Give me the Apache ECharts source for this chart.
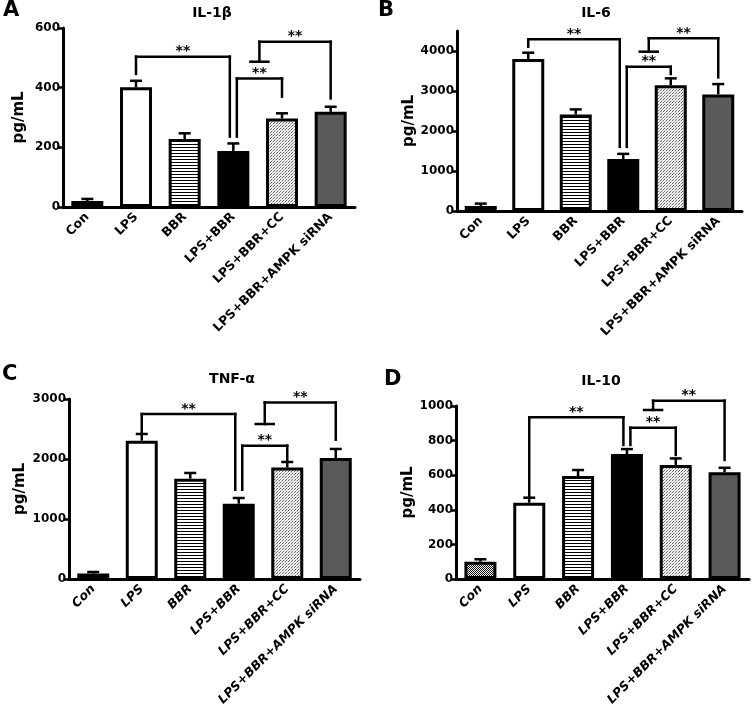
<!DOCTYPE html>
<html><head><meta charset="utf-8">
<script src="https://cdn.jsdelivr.net/npm/echarts@6/dist/echarts.min.js"></script>
<style>html,body{margin:0;padding:0;background:#fff}#c{width:753px;height:709px}</style>
</head><body><div id="c"></div>
<script>
// ---------- data ----------
const categories = ['Con', 'LPS', 'BBR', 'LPS+BBR', 'LPS+BBR+CC', 'LPS+BBR+AMPK siRNA'];

const il1bMean = [20, 401, 228, 188, 297, 319];
const il1bSem  = [7, 22, 19, 25, 17, 17];
const il6Mean  = [125, 3800, 2414, 1302, 3141, 2915];
const il6Sem   = [60, 158, 126, 126, 175, 258];
const tnfMean  = [90, 2305, 1672, 1255, 1860, 2017];
const tnfSem   = [27, 112, 95, 95, 90, 150];
const il10Mean = [100, 441, 595, 722, 659, 617];
const il10Sem  = [14, 29, 35, 29, 38, 26];

// significance brackets: [leftCat, rightCat, topValue, leftLegEnd, rightLegEnd]
const il1bPairs = [[1, 3, 504, 446, 236], [3, 4, 431, 236, 370]];
const il6Pairs  = [[1, 3, 4293, 4108, 1603], [3, 4, 3607, 1603, 3424]];
const tnfPairs  = [[1, 3, 2750, 2440, 1488], [3, 4, 2222, 1488, 1988]];
const il10Pairs = [[1, 3, 935, 476, 775], [3, 4, 875, 775, 717]];
// linked brackets: [fromPair, rightCat, stubValue, topValue, rightLegEnd]
const il1bLinks = [[1, 5, 487, 554, 364]];
const il6Links  = [[1, 5, 3983, 4318, 3341]];
const tnfLinks  = [[1, 5, 2583, 2943, 2322]];
const il10Links = [[1, 5, 977, 1031, 688]];

// axis ticks
const il1bTicks = [0, 200, 400, 600];
const il6Ticks  = [0, 1000, 2000, 3000, 4000];
const tnfTicks  = [0, 1000, 2000, 3000];
const il10Ticks = [0, 200, 400, 600, 800, 1000];

const titles = ['IL-1β', 'IL-6', 'TNF-α', 'IL-10'];
const letters = ['A', 'B', 'C', 'D'];

// ---------- styles ----------
const FONT = '"DejaVu Sans", "Liberation Sans", Arial, sans-serif';
function pat(w, h, bg, draw) {
  const c = document.createElement('canvas');
  c.width = w; c.height = h;
  const g = c.getContext('2d');
  g.fillStyle = bg; g.fillRect(0, 0, w, h);
  draw(g);
  return { image: c, repeat: 'repeat' };
}
const fills = [
  pat(2, 2, '#fff', g => { g.fillStyle = '#111'; g.fillRect(0, 0, 1, 1); g.fillRect(1, 1, 1, 1); }),
  '#ffffff',
  pat(1, 3, '#fff', g => { g.fillStyle = '#000'; g.fillRect(0, 0, 1, 1); }),
  '#000000',
  pat(3, 3, '#f2f2f2', g => { g.fillStyle = '#666'; g.fillRect(0, 0, 1, 1); g.fillRect(1, 2, 1, 1); g.fillStyle = '#bbb'; g.fillRect(2, 1, 1, 1); }),
  '#5a5a5a'
];

const panels = [
  { mean: il1bMean, sem: il1bSem, pairs: il1bPairs, links: il1bLinks, ticks: il1bTicks, max: 600, interval: 200,
    grid: { left: 63, top: 28, width: 292, height: 179 }, nameGap: 36, italic: false,
    title: [212, 13], letter: [3, 11] },
  { mean: il6Mean, sem: il6Sem, pairs: il6Pairs, links: il6Links, ticks: il6Ticks, max: 4500, interval: 1000,
    grid: { left: 457, top: 31, width: 285, height: 180 }, nameGap: 40, italic: false,
    title: [596, 13], letter: [378, 11] },
  { mean: tnfMean, sem: tnfSem, pairs: tnfPairs, links: tnfLinks, ticks: tnfTicks, max: 3000, interval: 1000,
    grid: { left: 69, top: 399, width: 291, height: 180 }, nameGap: 41, italic: true,
    title: [232, 379], letter: [2, 375] },
  { mean: il10Mean, sem: il10Sem, pairs: il10Pairs, links: il10Links, ticks: il10Ticks, max: 1000, interval: 200,
    grid: { left: 456, top: 406, width: 293, height: 173 }, nameGap: 39, italic: true,
    title: [601, 381], letter: [384, 380] }
];

const grids = [], xAxes = [], yAxes = [], series = [], graphics = [];

panels.forEach((p, gi) => {
  grids.push(Object.assign({ containLabel: false, outerBoundsMode: 'none' }, p.grid));
  xAxes.push({
    type: 'category', gridIndex: gi, data: categories,
    axisLine: { lineStyle: { color: '#000', width: 3 } },
    axisTick: { alignWithLabel: true, length: 5, lineStyle: { color: '#000', width: 2.5 } },
    axisLabel: { rotate: 45, interval: 0, color: '#000', fontFamily: FONT, fontWeight: 'bold',
      fontSize: 12.5, fontStyle: p.italic ? 'italic' : 'normal', margin: 8, hideOverlap: false },
    splitLine: { show: false }
  });
  yAxes.push({
    type: 'value', gridIndex: gi, min: 0, max: p.max, interval: p.interval,
    axisLine: { show: true, lineStyle: { color: '#000', width: 3 } },
    axisTick: { show: true, length: 5, lineStyle: { color: '#000', width: 2.5 }, customValues: p.ticks },
    axisLabel: { color: '#000', fontFamily: FONT, fontWeight: 'bold', fontSize: 12, margin: 3,
      customValues: p.ticks, formatter: v => String(v) },
    splitLine: { show: false },
    name: 'pg/mL', nameLocation: 'middle', nameGap: p.nameGap,
    nameTextStyle: { color: '#000', fontFamily: FONT, fontWeight: 'bold', fontSize: 15 }
  });
  series.push({
    type: 'bar', xAxisIndex: gi, yAxisIndex: gi, barWidth: 32,
    itemStyle: { borderColor: '#000', borderWidth: 3 },
    data: p.mean.map((v, j) => ({ value: v, itemStyle: { color: fills[j] } })),
    z: 2
  });
  series.push({
    type: 'custom', xAxisIndex: gi, yAxisIndex: gi, clip: false, z: 4,
    data: p.mean.map((v, j) => [j, v, p.sem[j]]),
    encode: { x: 0, y: 1 },
    renderItem: (params, api) => {
      const x = api.value(0), m = api.value(1), s = api.value(2);
      const p0 = api.coord([x, m]), p1 = api.coord([x, m + s]);
      const st = { stroke: '#000', lineWidth: 2.5 };
      return { type: 'group', children: [
        { type: 'line', shape: { x1: p0[0], y1: p0[1], x2: p1[0], y2: p1[1] }, style: st },
        { type: 'line', shape: { x1: p1[0] - 6, y1: p1[1], x2: p1[0] + 6, y2: p1[1] }, style: st }
      ] };
    }
  });
  const pairs = p.pairs, links = p.links;
  const shared = c => pairs.filter(q => q[0] === c || q[1] === c).length > 1;
  const legX = (api, c, side) => api.coord([c, 0])[0] + (shared(c) ? (side === 'l' ? 3.5 : -3.5) : 0);
  const yv = (api, v) => api.coord([0, v])[1];
  series.push({
    type: 'custom', xAxisIndex: gi, yAxisIndex: gi, clip: false, z: 5,
    data: pairs.map((q, i) => [i, q[2]]).concat(links.map((l, i) => [pairs.length + i, l[3]])),
    encode: { x: 0, y: 1 },
    renderItem: (params, api) => {
      const k = params.dataIndex, ch = [];
      const L = (x1, y1, x2, y2) => ch.push({ type: 'line', shape: { x1, y1, x2, y2 },
        style: { stroke: '#000', lineWidth: 2.5, lineCap: 'square' } });
      const T = (x, y) => ch.push({ type: 'text', x, y, style: { text: '**', font: 'bold 14px ' + FONT, fill: '#000',
        align: 'center', verticalAlign: 'middle', textAlign: 'center', textVerticalAlign: 'middle' } });
      if (k < pairs.length) {
        const [l, r, top, lv, rv] = pairs[k];
        const xl = legX(api, l, 'l'), xr = legX(api, r, 'r'), yt = yv(api, top);
        L(xl, yv(api, lv), xl, yt); L(xl, yt, xr, yt); L(xr, yt, xr, yv(api, rv));
        T((xl + xr) / 2, yt - 5);
      } else {
        const [src, r, sv, top, rv] = links[k - pairs.length];
        const q = pairs[src];
        const xc = (legX(api, q[0], 'l') + legX(api, q[1], 'r')) / 2;
        const xr = api.coord([r, 0])[0], ys = yv(api, sv), yt = yv(api, top);
        L(xc - 9, ys, xc + 9, ys); L(xc, ys, xc, yt); L(xc, yt, xr, yt); L(xr, yt, xr, yv(api, rv));
        T((xc + xr) / 2, yt - 5);
      }
      return { type: 'group', children: ch };
    }
  });
  graphics.push({ type: 'text', x: p.title[0], y: p.title[1],
    style: { text: titles[gi], font: 'bold 14px ' + FONT, fill: '#000', align: 'center', verticalAlign: 'middle',
      textAlign: 'center', textVerticalAlign: 'middle' } });
  graphics.push({ type: 'text', x: p.letter[0], y: p.letter[1],
    style: { text: letters[gi], font: 'bold 21px ' + FONT, fill: '#000', align: 'left', verticalAlign: 'middle',
      textAlign: 'left', textVerticalAlign: 'middle' } });
});

const chart = echarts.init(document.getElementById('c'), null, { renderer: 'canvas' });
chart.setOption({
  animation: false,
  backgroundColor: '#fff',
  grid: grids, xAxis: xAxes, yAxis: yAxes, series: series,
  graphic: { elements: graphics }
});
</script>
</body></html>
